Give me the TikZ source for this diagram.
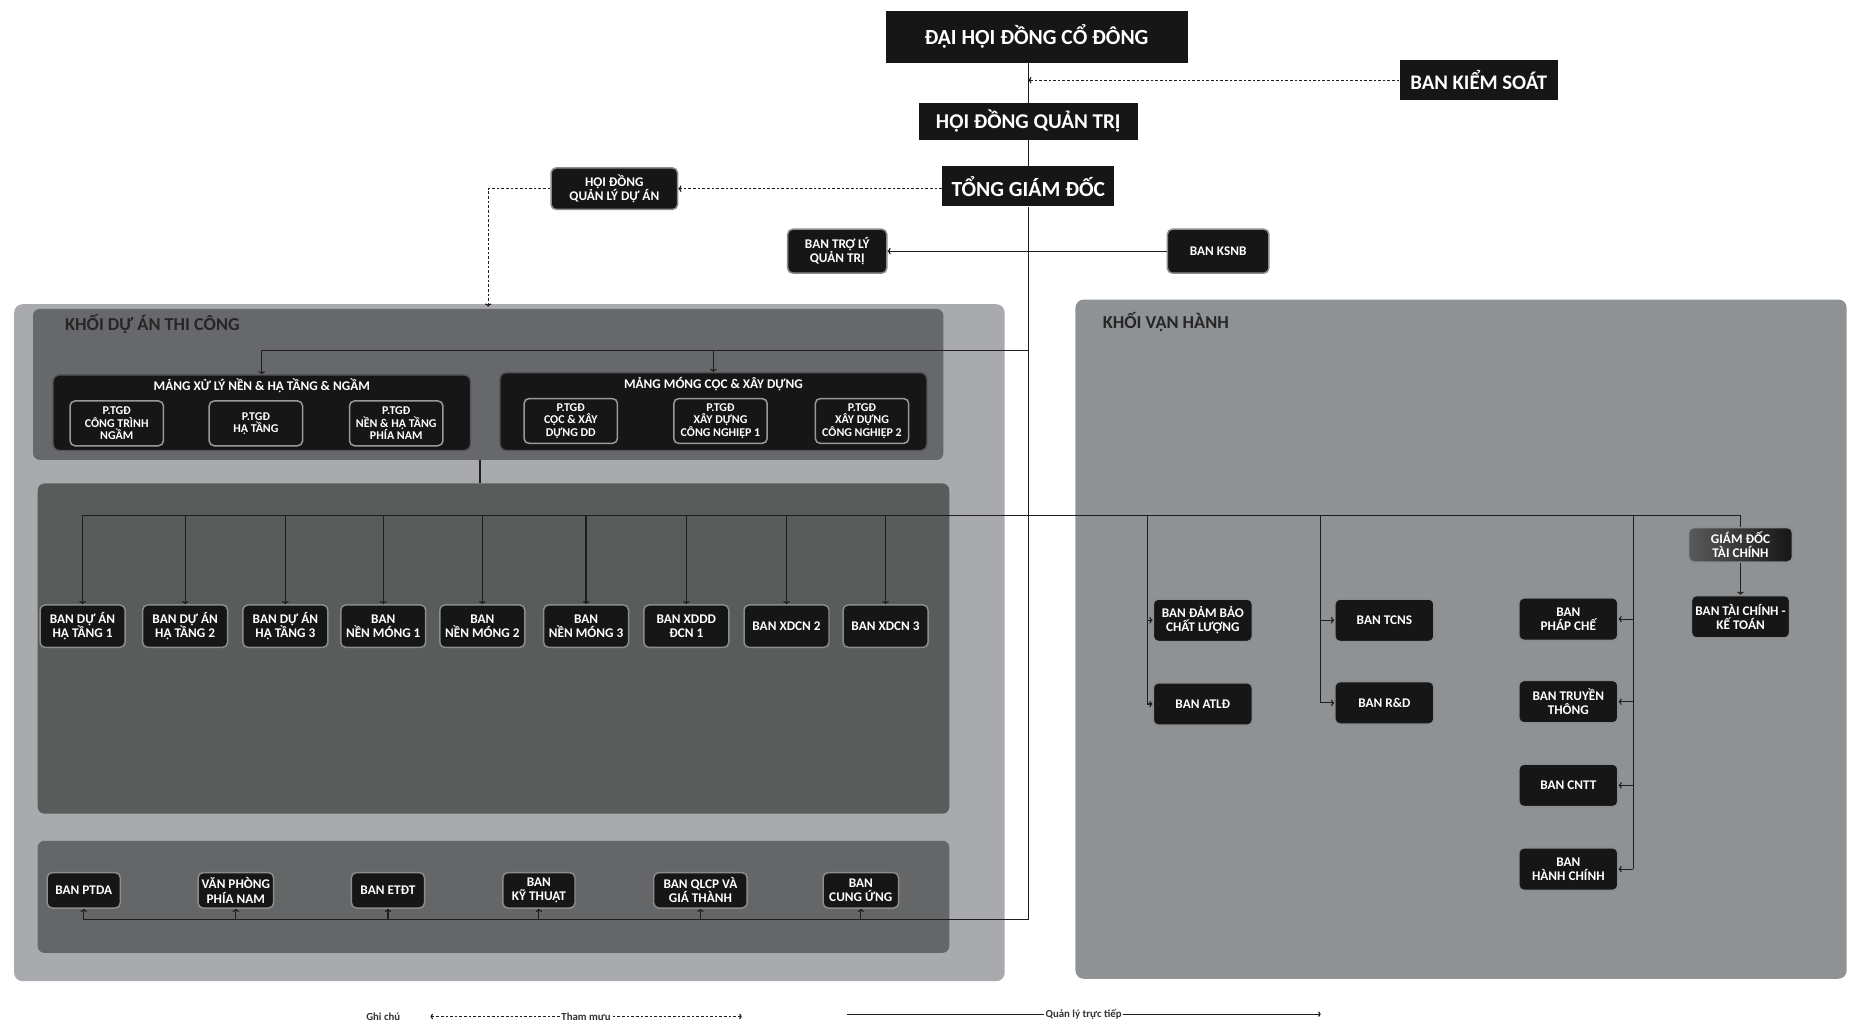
\documentclass[tikz,border=0pt]{standalone}
\usepackage{fontspec}
\setmainfont{Carlito}
\usetikzlibrary{arrows.meta}

\definecolor{boxblack}{HTML}{161616}
\definecolor{boxrim}{HTML}{8A8C8E}
\definecolor{outerL}{HTML}{A8AAAD}
\definecolor{headL}{HTML}{66686B}
\definecolor{midL}{HTML}{585C5B}
\definecolor{botL}{HTML}{646668}
\definecolor{panelR}{HTML}{8F9295}
\definecolor{wire}{HTML}{1E1E1E}

\tikzset{
	topbox/.style={fill=boxblack, text=white, inner sep=0pt, font=\bfseries\fontsize{13}{15}\selectfont},
	unit/.style={fill=boxblack, draw=boxrim, line width=0.9pt, rounded corners=3pt, text=white, align=center, inner sep=0pt,
		minimum width=1.8cm, minimum height=0.9cm, font=\bfseries\fontsize{8}{8.6}\selectfont},
	mang/.style={fill=boxblack, draw=boxrim!60!black, line width=0.8pt, rounded corners=4pt, inner sep=0pt},
	mangtitle/.style={text=white, inner sep=0pt, font=\bfseries\fontsize{8}{9}\selectfont},
	ptgd/.style={unit, draw=gray!80, minimum width=1.98cm, minimum height=0.95cm, font=\bfseries\fontsize{7.2}{7.5}\selectfont},
	khoi/.style={anchor=west, inner sep=0pt, text=black!85, font=\bfseries\fontsize{11}{12}\selectfont},
	wire/.style={draw=wire, line width=0.7pt},
	conn/.style={wire, -{>[scale=0.6]}},
	advise/.style={draw=wire, line width=0.7pt, dash pattern=on 1.6pt off 1.2pt},
	legend/.style={inner sep=1pt, text=black!80, font=\bfseries\fontsize{6.5}{7}\selectfont}
}

\begin{document}
\begin{tikzpicture}[x=0.025cm, y=-0.025cm]
\useasboundingbox (0,0) rectangle (1568,871);
\fill[white] (0,0) rectangle (1568,871);

% panels
\fill[outerL, rounded corners=5pt] (12,258) rectangle (852,832);
\fill[headL, rounded corners=4pt] (28,262) rectangle (800,390);
\fill[midL, rounded corners=4pt] (32,410) rectangle (805,690);
\fill[botL, rounded corners=4pt] (32,713) rectangle (805,808);
\fill[panelR, rounded corners=5pt] (912,254) rectangle (1566,830);
\node[khoi] (kdatitle) at (55,275) {KHỐI DỰ ÁN THI CÔNG};
\node[khoi] (kvhtitle) at (935,273) {KHỐI  VẬN HÀNH};

% top of the tree
\node[topbox, minimum width=6.4cm, minimum height=1.1cm] (dhdcd) at (879,31) {ĐẠI HỘI ĐỒNG CỔ ĐÔNG};
\node[topbox, minimum width=3.35cm, minimum height=0.85cm, font=\bfseries\fontsize{12.5}{14}\selectfont] (bks) at (1254,68) {BAN KIỂM SOÁT};
\node[topbox, minimum width=4.63cm, minimum height=0.78cm, font=\bfseries\fontsize{12.7}{14}\selectfont] (hdqt) at (872,103) {HỘI ĐỒNG QUẢN TRỊ};
\node[topbox, minimum width=3.65cm, minimum height=0.85cm] (tgd) at (872,158) {TỔNG GIÁM ĐỐC};
\node[unit, minimum width=2.68cm, minimum height=0.88cm] (hdqlda) at (521,160) {HỘI ĐỒNG\\QUẢN LÝ DỰ ÁN};
\node[unit, minimum width=2.1cm, minimum height=0.93cm] (btlqt) at (710,213) {BAN TRỢ LÝ\\QUẢN TRỊ};
\node[unit, minimum width=2.15cm, minimum height=0.93cm] (ksnb) at (1033,213) {BAN KSNB};

\coordinate (trunkend) at (872,780);
\coordinate (hdjoin) at (872,297);
\coordinate (kdatop) at (414,260);

\draw[wire] (dhdcd.south -| hdqt) -- (hdqt.north);
\draw[wire] (hdqt.south) -- (tgd.north);
\draw[wire] (tgd.south) -- (trunkend);
\draw[advise, -{>[scale=0.6]}] (bks.west) -- (bks.west -| hdqt);
\draw[advise, -{>[scale=0.6]}] (tgd.west |- hdqlda) -- (hdqlda.east);
\draw[advise, -{>[scale=0.6]}] (hdqlda.west) -| (kdatop);
\draw[conn] (ksnb.west) -- (btlqt.east);

% khoi du an thi cong: the two mang
\node[mang, minimum width=8.85cm, minimum height=1.6cm] (mang1) at (222,350) {};
\node[mang, minimum width=9.05cm, minimum height=1.65cm] (mang2) at (605,349) {};
\node[mangtitle] (mang1t) at (222,327) {MẢNG XỬ LÝ NỀN \& HẠ TẦNG \& NGẦM};
\node[mangtitle] (mang2t) at (605,326) {MẢNG MÓNG CỌC \& XÂY DỰNG};
\node[ptgd] (pa) at (99,359) {P.TGĐ\\CÔNG TRÌNH\\NGẦM};
\node[ptgd] (pb) at (217,359) {P.TGĐ\\HẠ TẦNG};
\node[ptgd] (pc) at (336,359) {P.TGĐ\\NỀN \& HẠ TẦNG\\PHÍA NAM};
\node[ptgd] (pd) at (484,357) {P.TGĐ\\CỌC \& XÂY\\DỰNG DD};
\node[ptgd] (pe) at (611,357) {P.TGĐ\\XÂY DỰNG\\CÔNG NGHIỆP 1};
\node[ptgd] (pf) at (731,357) {P.TGĐ\\XÂY DỰNG\\CÔNG NGHIỆP 2};
\draw[conn] (hdjoin) -| (mang1.north);
\draw[conn] (mang2.north |- hdjoin) -- (mang2.north);
\draw[wire] (407,390) -- (407,410);

% ban du an row
\coordinate (midleft) at (70,437);
\foreach \x/\t [count=\i] in {70/{BAN DỰ ÁN\\HẠ TẦNG 1}, 157/{BAN DỰ ÁN\\HẠ TẦNG 2}, 242/{BAN DỰ ÁN\\HẠ TẦNG 3},
	325/{BAN\\NỀN MÓNG 1}, 409/{BAN\\NỀN MÓNG 2}, 497/{BAN\\NỀN MÓNG 3}, 582/{BAN XDDD\\ĐCN 1},
	667/{BAN XDCN 2}, 751/{BAN XDCN 3}}
	\node[unit] (duan\i) at (\x,531) {\t};
\foreach \i in {1,...,9}
	\draw[conn] (duan\i.north |- midleft) -- (duan\i.north);

% support row
\foreach \x/\w/\t [count=\i] in {71/1.55/{BAN PTDA}, 200/1.6/{VĂN PHÒNG\\PHÍA NAM}, 329/1.55/{BAN ETĐT},
	457/1.53/{BAN\\KỸ THUẬT}, 594/1.98/{BAN QLCP VÀ\\GIÁ THÀNH}, 730/1.6/{BAN\\CUNG ỨNG}}
	\node[unit, minimum width=\w cm, minimum height=0.75cm] (ho\i) at (\x,755) {\t};
\draw[wire] (trunkend) -- (ho1.south |- trunkend);
\foreach \i in {1,...,6}
	\draw[conn] (ho\i.south |- trunkend) -- (ho\i.south);

% khoi van hanh
\node[unit, minimum width=2.1cm] (dbcl) at (1020,526) {BAN ĐẢM BẢO\\CHẤT LƯỢNG};
\node[unit, minimum width=2.1cm] (atld) at (1020,597) {BAN ATLĐ};
\node[unit, minimum width=2.1cm] (tcns) at (1174,526) {BAN TCNS};
\node[unit, minimum width=2.1cm] (rd) at (1174,596) {BAN R\&D};
\node[unit, minimum width=2.1cm] (phapche) at (1330,525) {BAN\\PHÁP CHẾ};
\node[unit, minimum width=2.1cm] (truyenthong) at (1330,595) {BAN TRUYỀN\\THÔNG};
\node[unit, minimum width=2.1cm] (cntt) at (1330,666) {BAN CNTT};
\node[unit, minimum width=2.1cm] (hanhchinh) at (1330,737) {BAN\\HÀNH CHÍNH};
\node[unit, minimum width=2.2cm, minimum height=0.73cm, left color=gray!70!black, right color=boxblack] (gdtc) at (1476,462) {GIÁM ĐỐC\\TÀI CHÍNH};
\node[unit, minimum width=2.08cm] (btckt) at (1476,523) {BAN TÀI CHÍNH -\\KẾ TOÁN};

\coordinate (vh1) at (973,437);
\coordinate (vh2) at (1120,437);
\coordinate (vh3) at (1385,437);
\draw[wire] (midleft) -| (gdtc.north);
\draw[wire] (vh1) -- (vh1 |- atld);
\draw[wire] (vh2) -- (vh2 |- rd);
\draw[wire] (vh3) -- (vh3 |- hanhchinh);
\draw[conn] (gdtc.south) -- (btckt.north);
\foreach \n in {dbcl,atld}
	\draw[conn] (vh1 |- \n) -- (\n.west);
\foreach \n in {tcns,rd}
	\draw[conn] (vh2 |- \n) -- (\n.west);
\foreach \n in {phapche,truyenthong,cntt,hanhchinh}
	\draw[conn] (vh3 |- \n) -- (\n.east);

% legend
\coordinate (lga) at (365,862);
\coordinate (lgb) at (629,862);
\coordinate (lgc) at (718,860);
\coordinate (lgd) at (1120,860);
\node[legend] (ghichu) at (325,862) {Ghi chú};
\draw[advise, {<[scale=0.5]}-{>[scale=0.5]}] (lga) -- node[legend, fill=white] (thammuu) {Tham mưu} (lgb);
\draw[wire, -{>[scale=0.5]}] (lgc) -- node[legend, fill=white] (qltt) {Quản lý trực tiếp} (lgd);
\end{tikzpicture}
\end{document}
